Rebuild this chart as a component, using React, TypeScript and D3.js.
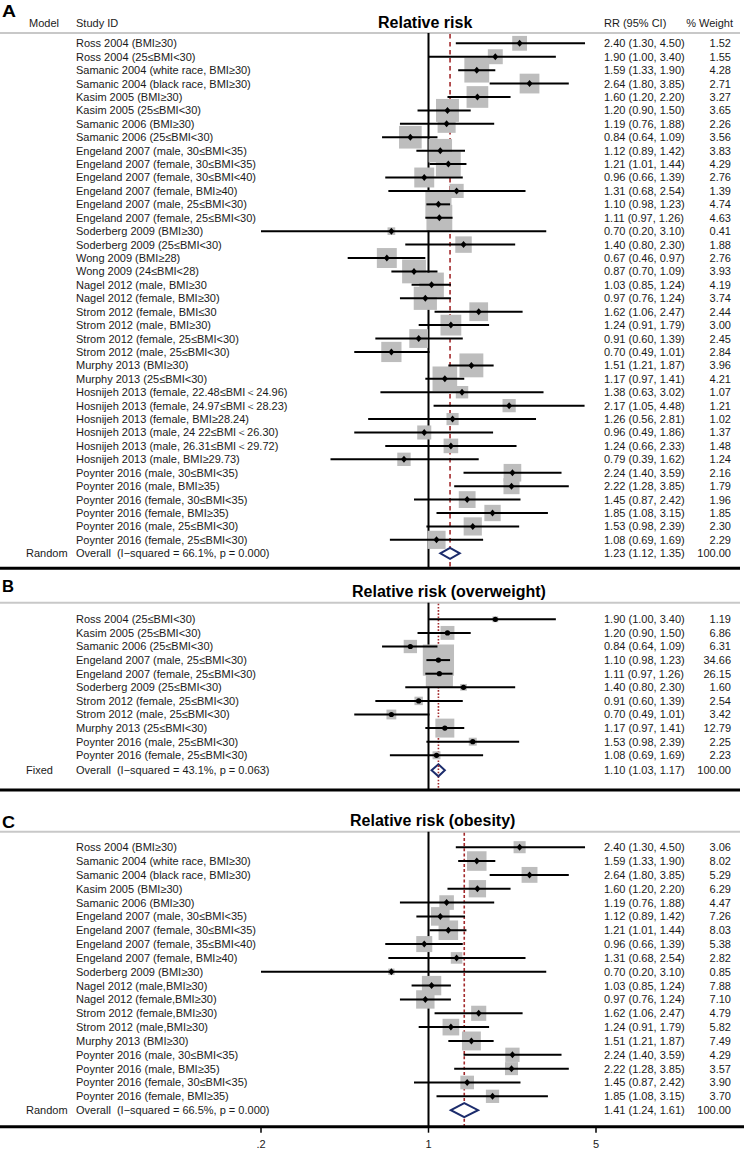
import React from 'react';
import * as d3 from 'd3';

// ---------- Panel A : all BMI categories ----------
const studiesA = [
  'Ross 2004 (BMI≥30)',
  'Ross 2004 (25≤BMI<30)',
  'Samanic 2004 (white race, BMI≥30)',
  'Samanic 2004 (black race, BMI≥30)',
  'Kasim 2005 (BMI≥30)',
  'Kasim 2005 (25≤BMI<30)',
  'Samanic 2006 (BMI≥30)',
  'Samanic 2006 (25≤BMI<30)',
  'Engeland 2007 (male, 30≤BMI<35)',
  'Engeland 2007 (female, 30≤BMI<35)',
  'Engeland 2007 (female, 30≤BMI<40)',
  'Engeland 2007 (female, BMI≥40)',
  'Engeland 2007 (male, 25≤BMI<30)',
  'Engeland 2007 (female, 25≤BMI<30)',
  'Soderberg 2009 (BMI≥30)',
  'Soderberg 2009 (25≤BMI<30)',
  'Wong 2009 (BMI≥28)',
  'Wong 2009 (24≤BMI<28)',
  'Nagel 2012 (male, BMI≥30',
  'Nagel 2012 (female, BMI≥30)',
  'Strom 2012 (female, BMI≤30',
  'Strom 2012 (male, BMI≥30)',
  'Strom 2012 (female, 25≤BMI<30)',
  'Strom 2012 (male, 25≤BMI<30)',
  'Murphy 2013 (BMI≥30)',
  'Murphy 2013 (25≤BMI<30)',
  'Hosnijeh 2013 (female, 22.48≤BMI＜24.96)',
  'Hosnijeh 2013 (female, 24.97≤BMI＜28.23)',
  'Hosnijeh 2013 (female, BMI≥28.24)',
  'Hosnijeh 2013 (male, 24 22≤BMI＜26.30)',
  'Hosnijeh 2013 (male, 26.31≤BMI＜29.72)',
  'Hosnijeh 2013 (male, BMI≥29.73)',
  'Poynter 2016 (male, 30≤BMI<35)',
  'Poynter 2016 (male, BMI≥35)',
  'Poynter 2016 (female, 30≤BMI<35)',
  'Poynter 2016 (female, BMI≥35)',
  'Poynter 2016 (male, 25≤BMI<30)',
  'Poynter 2016 (female, 25≤BMI<30)',
];
const rrA = [2.40, 1.90, 1.59, 2.64, 1.60, 1.20, 1.19, 0.84, 1.12, 1.21, 0.96, 1.31, 1.10, 1.11, 0.70, 1.40, 0.67, 0.87, 1.03, 0.97, 1.62, 1.24, 0.91, 0.70, 1.51, 1.17, 1.38, 2.17, 1.26, 0.96, 1.24, 0.79, 2.24, 2.22, 1.45, 1.85, 1.53, 1.08];
const lowA = [1.30, 1.00, 1.33, 1.80, 1.20, 0.90, 0.76, 0.64, 0.89, 1.01, 0.66, 0.68, 0.98, 0.97, 0.20, 0.80, 0.46, 0.70, 0.85, 0.76, 1.06, 0.91, 0.60, 0.49, 1.21, 0.97, 0.63, 1.05, 0.56, 0.49, 0.66, 0.39, 1.40, 1.28, 0.87, 1.08, 0.98, 0.69];
const highA = [4.50, 3.40, 1.90, 3.85, 2.20, 1.50, 1.88, 1.09, 1.42, 1.44, 1.39, 2.54, 1.23, 1.26, 3.10, 2.30, 0.97, 1.09, 1.24, 1.24, 2.47, 1.79, 1.39, 1.01, 1.87, 1.41, 3.02, 4.48, 2.81, 1.86, 2.33, 1.62, 3.59, 3.85, 2.42, 3.15, 2.39, 1.69];
const weightA = [1.52, 1.55, 4.28, 2.71, 3.27, 3.65, 2.26, 3.56, 3.83, 4.29, 2.76, 1.39, 4.74, 4.63, 0.41, 1.88, 2.76, 3.93, 4.19, 3.74, 2.44, 3.00, 2.45, 2.84, 3.96, 4.21, 1.07, 1.21, 1.02, 1.37, 1.48, 1.24, 2.16, 1.79, 1.96, 1.85, 2.30, 2.29];

// ---------- Panel B : overweight ----------
const studiesB = [
  'Ross 2004 (25≤BMI<30)',
  'Kasim 2005 (25≤BMI<30)',
  'Samanic 2006 (25≤BMI<30)',
  'Engeland 2007 (male, 25≤BMI<30)',
  'Engeland 2007 (female, 25≤BMI<30)',
  'Soderberg 2009 (25≤BMI<30)',
  'Strom 2012 (female, 25≤BMI<30)',
  'Strom 2012 (male, 25≤BMI<30)',
  'Murphy 2013 (25≤BMI<30)',
  'Poynter 2016 (male, 25≤BMI<30)',
  'Poynter 2016 (female, 25≤BMI<30)',
];
const rrB = [1.90, 1.20, 0.84, 1.10, 1.11, 1.40, 0.91, 0.70, 1.17, 1.53, 1.08];
const lowB = [1.00, 0.90, 0.64, 0.98, 0.97, 0.80, 0.60, 0.49, 0.97, 0.98, 0.69];
const highB = [3.40, 1.50, 1.09, 1.23, 1.26, 2.30, 1.39, 1.01, 1.41, 2.39, 1.69];
const weightB = [1.19, 6.86, 6.31, 34.66, 26.15, 1.60, 2.54, 3.42, 12.79, 2.25, 2.23];

// ---------- Panel C : obesity ----------
const studiesC = [
  'Ross 2004 (BMI≥30)',
  'Samanic 2004 (white race, BMI≥30)',
  'Samanic 2004 (black race, BMI≥30)',
  'Kasim 2005 (BMI≥30)',
  'Samanic 2006 (BMI≥30)',
  'Engeland 2007 (male, 30≤BMI<35)',
  'Engeland 2007 (female, 30≤BMI<35)',
  'Engeland 2007 (female, 35≤BMI<40)',
  'Engeland 2007 (female, BMI≥40)',
  'Soderberg 2009 (BMI≥30)',
  'Nagel 2012 (male,BMI≥30)',
  'Nagel 2012 (female,BMI≥30)',
  'Strom 2012 (female,BMI≥30)',
  'Strom 2012 (male,BMI≥30)',
  'Murphy 2013 (BMI≥30)',
  'Poynter 2016 (male, 30≤BMI<35)',
  'Poynter 2016 (male, BMI≥35)',
  'Poynter 2016 (female, 30≤BMI<35)',
  'Poynter 2016 (female, BMI≥35)',
];
const rrC = [2.40, 1.59, 2.64, 1.60, 1.19, 1.12, 1.21, 0.96, 1.31, 0.70, 1.03, 0.97, 1.62, 1.24, 1.51, 2.24, 2.22, 1.45, 1.85];
const lowC = [1.30, 1.33, 1.80, 1.20, 0.76, 0.89, 1.01, 0.66, 0.68, 0.20, 0.85, 0.76, 1.06, 0.91, 1.21, 1.40, 1.28, 0.87, 1.08];
const highC = [4.50, 1.90, 3.85, 2.20, 1.88, 1.42, 1.44, 1.39, 2.54, 3.10, 1.24, 1.24, 2.47, 1.79, 1.87, 3.59, 3.85, 2.42, 3.15];
const weightC = [3.06, 8.02, 5.29, 6.29, 4.47, 7.26, 8.03, 5.38, 2.82, 0.85, 7.88, 7.10, 4.79, 5.82, 7.49, 4.29, 3.57, 3.90, 3.70];

// ---------- Overall estimates ----------
const panelLetters = ['A', 'B', 'C'];
const panelTitles = ['Relative risk', 'Relative risk (overweight)', 'Relative risk (obesity)'];
const modelNames = ['Random', 'Fixed', 'Random'];
const overallText = [
  'Overall  (I−squared = 66.1%, p = 0.000)',
  'Overall  (I−squared = 43.1%, p = 0.063)',
  'Overall  (I−squared = 66.5%, p = 0.000)',
];
const overallRR = [1.23, 1.10, 1.41];
const overallLow = [1.12, 1.03, 1.24];
const overallHigh = [1.35, 1.17, 1.61];

const axisTicks = [0.2, 1, 5];
const axisTickLabels = ['.2', '1', '5'];

const FONT = 'Liberation Sans, Arial, Helvetica, sans-serif';
const TEXT = '#1a1a1a';
const BOX = '#bdbdbd';
const RED = '#a32a2c';
const NAVY = '#1c2c6c';

const x = d3.scaleLog().domain([0.2, 5]).range([261, 596]);

const layouts = [
  { letterY: 17, letterW: 14, titleX: 378, titleY: 28, lineY: 33, row0: 43.3, step: 13.42, overallY: 553.3, bottomY: 568.3, marker: 'diamond', boxK: 12, dash: '4.5,3.5', dH: 5.5 },
  { letterY: 592, letterW: 12, titleX: 352, titleY: 597, lineY: 602.7, row0: 619.3, step: 13.6, overallY: 770.3, bottomY: 790, marker: 'circle', boxK: 5.3, dash: '1.6,1.6', dH: 6 },
  { letterY: 828, letterW: 13, titleX: 350, titleY: 825.5, lineY: 831.7, row0: 847.2, step: 13.84, overallY: 1110.2, bottomY: 1126.7, marker: 'diamond', boxK: 6.9, dash: '3,2.2', dH: 7 },
];

function Panel({ idx, studies, rr, low, high, weight }: any) {
  const L = layouts[idx];
  const y = (i: number) => L.row0 + i * L.step;
  const ovX = x(overallRR[idx]);
  const diamond = [
    [x(overallLow[idx]), L.overallY],
    [ovX, L.overallY - L.dH],
    [x(overallHigh[idx]), L.overallY],
    [ovX, L.overallY + L.dH],
  ];
  return (
    <g>
      <text x={2} y={L.letterY} fontSize={17} fontWeight="bold" fill="#000" textLength={L.letterW} lengthAdjust="spacingAndGlyphs">{panelLetters[idx]}</text>
      <text x={L.titleX} y={L.titleY} fontSize={16} fontWeight="bold" fill="#000">{panelTitles[idx]}</text>
      {idx === 0 && (
        <g fontSize={11} fill={TEXT}>
          <text x={29} y={27}>Model</text>
          <text x={76} y={27}>Study ID</text>
          <text x={604} y={27}>RR (95% CI)</text>
          <text x={733} y={27} textAnchor="end">% Weight</text>
        </g>
      )}
      <line x1={0} x2={740} y1={L.lineY} y2={L.lineY} stroke="#c8c8c8" strokeWidth={2} />
      {/* reference line at RR = 1 */}
      <line x1={x(1)} x2={x(1)} y1={L.lineY} y2={L.bottomY} stroke="#000" strokeWidth={2} />
      {/* overall estimate line */}
      <line x1={ovX} x2={ovX} y1={L.lineY + 1} y2={L.bottomY} stroke={RED} strokeWidth={1.6} strokeDasharray={L.dash} />
      {/* boxes */}
      {rr.map((v: number, i: number) => {
        const s = L.boxK * Math.sqrt(weight[i]);
        return <rect key={'b' + i} x={x(v) - s / 2} y={y(i) - s / 2} width={s} height={s} fill={BOX} />;
      })}
      {/* CIs and points */}
      {rr.map((v: number, i: number) => (
        <g key={'c' + i}>
          <line x1={x(low[i])} x2={x(high[i])} y1={y(i)} y2={y(i)} stroke="#000" strokeWidth={2} />
          {L.marker === 'diamond' ? (
            <path d={`M${x(v) - 3},${y(i)}L${x(v)},${y(i) - 3.5}L${x(v) + 3},${y(i)}L${x(v)},${y(i) + 3.5}Z`} fill="#000" />
          ) : (
            <circle cx={x(v)} cy={y(i)} r={2.6} fill="#000" />
          )}
        </g>
      ))}
      <path d={d3.line()(diamond as any) + 'Z'} fill="#fff" stroke={NAVY} strokeWidth={2} />
      {idx === 1 && (
        <line x1={ovX} x2={ovX} y1={L.overallY - L.dH + 1} y2={L.overallY + L.dH - 1} stroke={RED} strokeWidth={1.6} strokeDasharray={L.dash} />
      )}
      {/* text columns */}
      <g fontSize={11} fill={TEXT}>
        {studies.map((s: string, i: number) => (
          <text key={'s' + i} x={76} y={y(i)} dy="0.36em">{s}</text>
        ))}
        {rr.map((v: number, i: number) => (
          <text key={'r' + i} x={604} y={y(i)} dy="0.36em">{`${v.toFixed(2)} (${low[i].toFixed(2)}, ${high[i].toFixed(2)})`}</text>
        ))}
        {weight.map((w: number, i: number) => (
          <text key={'w' + i} x={731} y={y(i)} dy="0.36em" textAnchor="end">{w.toFixed(2)}</text>
        ))}
        <text x={26} y={L.overallY} dy="0.36em">{modelNames[idx]}</text>
        <text x={76} y={L.overallY} dy="0.36em" style={{ whiteSpace: 'pre' }}>{overallText[idx]}</text>
        <text x={604} y={L.overallY} dy="0.36em">{`${overallRR[idx].toFixed(2)} (${overallLow[idx].toFixed(2)}, ${overallHigh[idx].toFixed(2)})`}</text>
        <text x={731} y={L.overallY} dy="0.36em" textAnchor="end">100.00</text>
      </g>
      {idx < 2 ? (
        <line x1={0} x2={740} y1={L.bottomY} y2={L.bottomY} stroke="#000" strokeWidth={3} />
      ) : (
        <g>
          <line x1={0} x2={744} y1={L.bottomY} y2={L.bottomY} stroke="#000" strokeWidth={3} />
          {axisTicks.map((t, i) => (
            <g key={'t' + i}>
              <line x1={x(t)} x2={x(t)} y1={L.bottomY} y2={L.bottomY + 6} stroke="#000" strokeWidth={1.5} />
              <text x={x(t)} y={1148} fontSize={11} textAnchor="middle" fill={TEXT}>{axisTickLabels[i]}</text>
            </g>
          ))}
        </g>
      )}
    </g>
  );
}

export default function App() {
  return (
    <svg width={744} height={1149} style={{ position: 'absolute', left: 0, top: 0, background: '#fff' }} fontFamily={FONT}>
      <rect width={744} height={1149} fill="#fff" />
      <Panel idx={0} studies={studiesA} rr={rrA} low={lowA} high={highA} weight={weightA} />
      <Panel idx={1} studies={studiesB} rr={rrB} low={lowB} high={highB} weight={weightB} />
      <Panel idx={2} studies={studiesC} rr={rrC} low={lowC} high={highC} weight={weightC} />
    </svg>
  );
}
